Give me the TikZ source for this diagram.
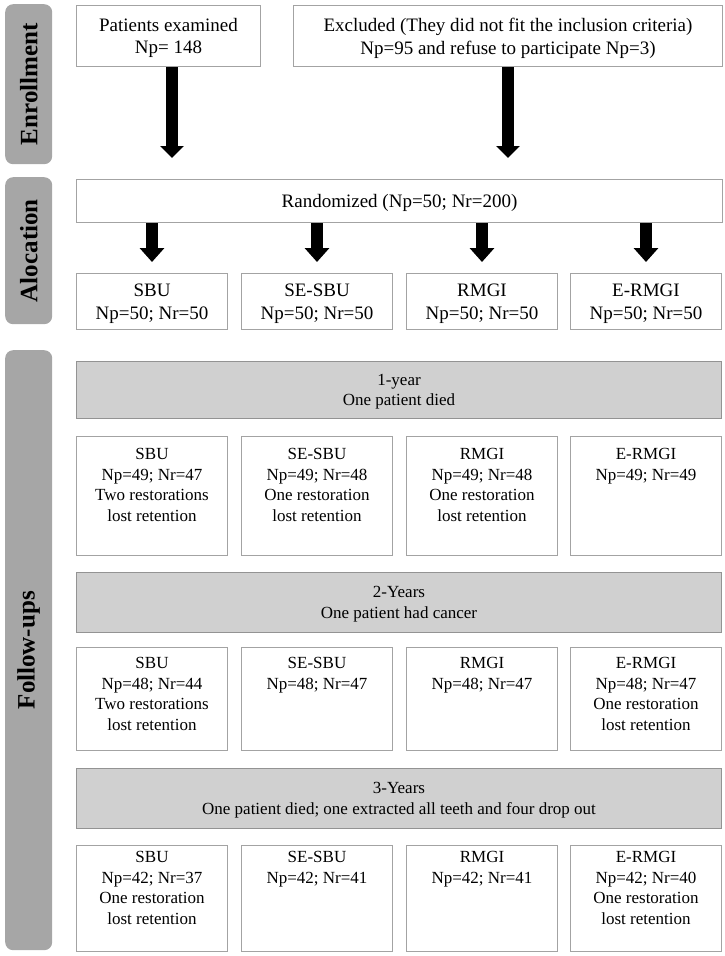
\documentclass[tikz,border=0pt]{standalone}
\usepackage{fontspec}
\setmainfont{Liberation Serif}
\usetikzlibrary{arrows.meta}
\definecolor{sidegray}{HTML}{A6A6A6}
\definecolor{boxgray}{HTML}{D0D0D0}
\definecolor{gborder}{HTML}{939393}
\definecolor{wborder}{HTML}{A3A3A3}
\tikzset{
  sidebar/.style={fill=sidegray, draw=none, rounded corners=8pt, inner sep=0pt, anchor=north west,
                  font=\fontsize{25}{28}\selectfont\bfseries},
  sidelabel/.style={rotate=90, font=\fontsize{25}{28}\selectfont\bfseries, inner sep=0pt},
  wbox/.style={draw=wborder, fill=white, line width=1pt, inner sep=0pt, anchor=north west, align=center,
               text depth=0pt, font=\fontsize{19}{22.8}\selectfont},
  gbox/.style={draw=gborder, fill=boxgray, line width=1pt, inner sep=0pt, anchor=north west, align=center,
               text depth=0pt, font=\fontsize{17}{20.6}\selectfont},
  fbox/.style={draw=wborder, fill=white, line width=1pt, inner sep=0pt, anchor=north west,
               minimum width=151pt},
  ftxt/.style={anchor=north, inner sep=0pt, align=center, font=\fontsize{17}{20.6}\selectfont},
  bigarrow/.style={line width=12pt, -{Triangle[width=23pt,length=12pt]}},
  smallarrow/.style={line width=12pt, -{Triangle[width=24pt,length=14pt]}},
}
\begin{document}
\begin{tikzpicture}[x=1pt,y=-1pt]
\useasboundingbox (0,0) rectangle (725,956);

% side bars
\node[sidebar, minimum width=47pt, minimum height=160pt] (barE) at (5,4) {};
\node[sidelabel] (labE) at (barE.center) {Enrollment};
\node[sidebar, minimum width=47pt, minimum height=147pt] (barA) at (5,177) {};
\node[sidelabel] (labA) at (barA.center) {Alocation};
\node[sidebar, minimum width=47pt, minimum height=600pt] (barF) at (5,350) {};
\node[sidelabel] (labF) at (barF.center) {Follow-ups};

% enrollment
\node[wbox, minimum width=184pt, minimum height=61pt] (pe) at (76,5) {Patients examined\\Np= 148};
\node[wbox, minimum width=429pt, minimum height=61pt] (ex) at (293,5) {Excluded (They did not fit the inclusion criteria)\\Np=95 and refuse to participate Np=3)};

% allocation
\node[wbox, minimum width=646pt, minimum height=43pt] (rand) at (76,179) {Randomized (Np=50; Nr=200)};
\node[wbox, minimum width=151pt, minimum height=56pt] (a1) at (76,273) {SBU\\Np=50; Nr=50};
\node[wbox, minimum width=151pt, minimum height=56pt] (a2) at (241,273) {SE-SBU\\Np=50; Nr=50};
\node[wbox, minimum width=151pt, minimum height=56pt] (a3) at (406,273) {RMGI\\Np=50; Nr=50};
\node[wbox, minimum width=151pt, minimum height=56pt] (a4) at (570,273) {E-RMGI\\Np=50; Nr=50};

\coordinate (e1) at (172,158);
\coordinate (e2) at (508,158);
\draw[bigarrow] (pe.south -| e1) -- (e1);
\draw[bigarrow] (ex.south -| e2) -- (e2);
\foreach \i in {1,2,3,4}{
  \draw[smallarrow] (rand.south -| a\i.north) -- ([yshift=11pt]a\i.north);
}

% follow-ups: 1 year
\node[gbox, minimum width=645pt, minimum height=57pt] (g1) at (76,361) {1-year\\One patient died};
\node[fbox, minimum height=119pt] (b1a) at (76,436) {};
\node[fbox, minimum height=119pt] (b1b) at (241,436) {};
\node[fbox, minimum height=119pt] (b1c) at (406,436) {};
\node[fbox, minimum height=119pt] (b1d) at (570,436) {};
\node[ftxt] (t1a) at ([yshift=-12pt]b1a.north) {SBU\\Np=49; Nr=47\\Two restorations\\lost retention};
\node[ftxt] (t1b) at ([yshift=-12pt]b1b.north) {SE-SBU\\Np=49; Nr=48\\One restoration\\lost retention};
\node[ftxt] (t1c) at ([yshift=-12pt]b1c.north) {RMGI\\Np=49; Nr=48\\One restoration\\lost retention};
\node[ftxt] (t1d) at ([yshift=-12pt]b1d.north) {E-RMGI\\Np=49; Nr=49};

% 2 years
\node[gbox, minimum width=645pt, minimum height=60pt] (g2) at (76,572) {2-Years\\One patient had cancer};
\node[fbox, minimum height=103pt] (b2a) at (76,647) {};
\node[fbox, minimum height=103pt] (b2b) at (241,647) {};
\node[fbox, minimum height=103pt] (b2c) at (406,647) {};
\node[fbox, minimum height=103pt] (b2d) at (570,647) {};
\node[ftxt] (t2a) at ([yshift=-10pt]b2a.north) {SBU\\Np=48; Nr=44\\Two restorations\\lost retention};
\node[ftxt] (t2b) at ([yshift=-10pt]b2b.north) {SE-SBU\\Np=48; Nr=47};
\node[ftxt] (t2c) at ([yshift=-10pt]b2c.north) {RMGI\\Np=48; Nr=47};
\node[ftxt] (t2d) at ([yshift=-10pt]b2d.north) {E-RMGI\\Np=48; Nr=47\\One restoration\\lost retention};

% 3 years
\node[gbox, minimum width=645pt, minimum height=60pt] (g3) at (76,768) {3-Years\\One patient died; one extracted all teeth and four drop out};
\node[fbox, minimum height=106pt] (b3a) at (76,845) {};
\node[fbox, minimum height=106pt] (b3b) at (241,845) {};
\node[fbox, minimum height=106pt] (b3c) at (406,845) {};
\node[fbox, minimum height=106pt] (b3d) at (570,845) {};
\node[ftxt] (t3a) at ([yshift=-6pt]b3a.north) {SBU\\Np=42; Nr=37\\One restoration\\lost retention};
\node[ftxt] (t3b) at ([yshift=-6pt]b3b.north) {SE-SBU\\Np=42; Nr=41};
\node[ftxt] (t3c) at ([yshift=-6pt]b3c.north) {RMGI\\Np=42; Nr=41};
\node[ftxt] (t3d) at ([yshift=-6pt]b3d.north) {E-RMGI\\Np=42; Nr=40\\One restoration\\lost retention};
\end{tikzpicture}
\end{document}
